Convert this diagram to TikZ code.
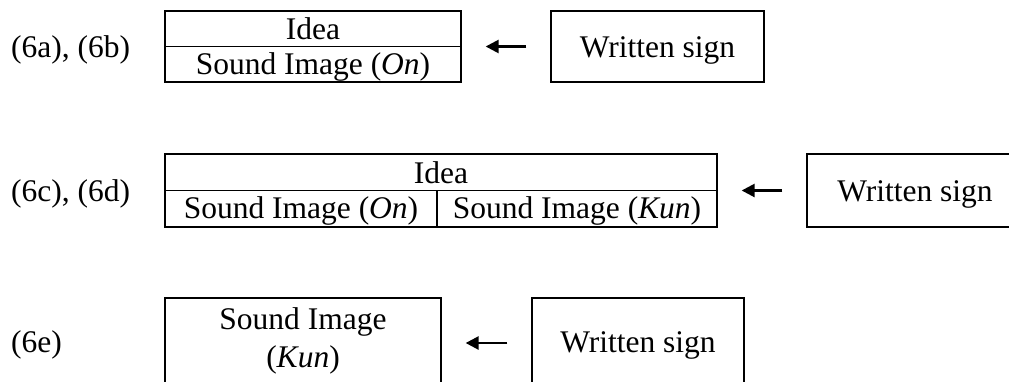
\documentclass[tikz,border=0pt]{standalone}
\usepackage{fontspec}
\setmainfont{Liberation Serif}
\usetikzlibrary{arrows.meta}
\begin{document}
\begin{tikzpicture}[x=1pt,y=-1pt,
  boxshape/.style={draw, line width=1.3pt, inner sep=0pt, minimum height=#1},
  boxshape/.default=71pt,
  txt/.style={anchor=base, inner sep=0pt, font=\fontsize{31.5}{36}\selectfont},
  lbl/.style={anchor=base west, inner sep=0pt, font=\fontsize{31.5}{36}\selectfont},
  arr/.style={-{Triangle[length=13pt,width=13pt]}, line width=2.5pt, shorten <=24pt, shorten >=24pt}]
\clip (0,0) rectangle (1009,381);
% row 1
\node[lbl] (l1) at (11,57) {(6a), (6b)};
\node[boxshape=71pt, minimum width=296pt] (b1) at (313,46.5) {};
\draw[line width=1.3pt] (b1.west) -- (b1.east);
\node[txt] (b1t) at (313,39.5) {Idea};
\node[txt] (b1b) at (313,74) {Sound Image (\textit{On})};
\node[boxshape=71pt, minimum width=213pt] (w1) at (657.5,46.5) {};
\node[txt] (w1t) at (657.5,57) {Written sign};
\draw[arr] (w1) -- (b1);
% row 2
\node[lbl] (l2) at (11,201.5) {(6c), (6d)};
\node[boxshape=73pt, minimum width=552pt] (b2) at (441,190.5) {};
\draw[line width=1.3pt] (b2.west) -- (b2.east);
\coordinate (d2) at (437,190.5);
\draw[line width=1.3pt] (d2) -- (d2 |- b2.south);
\node[txt] (b2t) at (441,183) {Idea};
\node[txt] (b2l) at (301,218.5) {Sound Image (\textit{On})};
\node[txt] (b2r) at (577,218.5) {Sound Image (\textit{Kun})};
\node[boxshape=73pt, minimum width=216pt] (w2) at (915,190.5) {};
\node[txt] (w2t) at (915,201.5) {Written sign};
\draw[arr] (w2) -- (b2);
% row 3
\node[lbl] (l3) at (11,352) {(6e)};
\node[boxshape=90pt, minimum width=276pt] (b3) at (303,343) {};
\node[txt] (b3t) at (303,329) {Sound Image};
\node[txt] (b3b) at (303,367) {(\textit{Kun})};
\node[boxshape=90pt, minimum width=212pt] (w3) at (638,343) {};
\node[txt] (w3t) at (638,352) {Written sign};
\draw[arr] (w3) -- (b3);
\end{tikzpicture}
\end{document}
